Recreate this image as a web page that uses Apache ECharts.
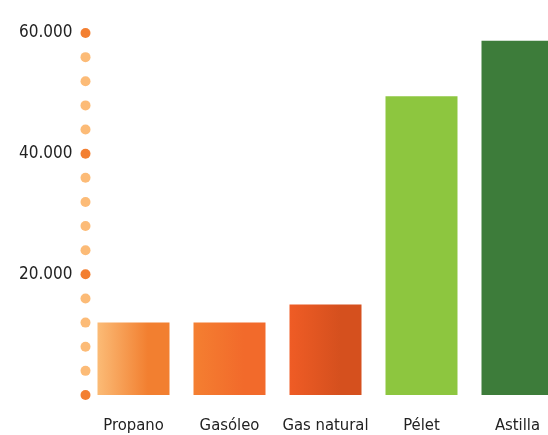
<!DOCTYPE html>
<html>
<head>
<meta charset="utf-8">
<style>
  html, body { margin: 0; padding: 0; background: #ffffff; }
  #chart { width: 548px; height: 435px; }
</style>
<script src="https://cdn.jsdelivr.net/npm/echarts@6/dist/echarts.min.js"></script>
</head>
<body>
<div id="chart"></div>
<script>
// Fuel categories and investment in euros
const categories = ['Propano', 'Gasóleo', 'Gas natural', 'Pélet', 'Astilla'];
const investment = [12000, 12000, 15000, 49500, 58700];
const axisTicks = [0, 20000, 40000, 60000];
// dotted axis marks every 4.000 €
const dotValues = [0, 4000, 8000, 12000, 16000, 20000, 24000, 28000, 32000, 36000, 40000, 44000, 48000, 52000, 56000, 60000];

// bar fills: [left colour, right colour]
const barFills = [
  ['#fbbb76', '#f27f30'],
  ['#f47f31', '#f26a2b'],
  ['#ef5c25', '#d5501e'],
  ['#8dc63f', '#8dc63f'],
  ['#3d7c3a', '#3d7c3a']
];

const fontFamily = '"DejaVu Sans Condensed", "Liberation Sans Narrow", sans-serif';

function fmt(v) {
  return String(v).replace(/\B(?=(\d{3})+(?!\d))/g, '.');
}

const chart = echarts.init(document.getElementById('chart'), null, { renderer: 'canvas' });

chart.setOption({
  animation: false,
  backgroundColor: '#ffffff',
  graphic: [{
    type: 'text',
    left: 56,
    top: -11,
    style: { text: 'Inversión en euros', fill: '#a0a0a0', font: '13px ' + fontFamily }
  }],
  grid: { left: 85.5, right: -17.5, top: 33, bottom: 40, containLabel: false, outerBoundsMode: 'none' },
  xAxis: [{
    type: 'category',
    data: categories,
    axisLine: { show: false },
    axisTick: { show: false },
    axisLabel: { color: '#222222', fontFamily: fontFamily, fontSize: 16.5, margin: 22, interval: 0 }
  }, {
    type: 'value',
    min: 0,
    max: 1,
    show: false
  }],
  yAxis: {
    type: 'value',
    min: 0,
    max: 60000,
    interval: 20000,
    axisLine: { show: false },
    axisTick: { show: false },
    splitLine: { show: false },
    axisLabel: {
      color: '#222222',
      fontFamily: fontFamily,
      fontSize: 17,
      margin: 13,
      formatter: function (v) { return axisTicks.indexOf(v) > 0 ? fmt(v) : ''; }
    }
  },
  series: [{
    type: 'bar',
    xAxisIndex: 0,
    barWidth: 72,
    data: investment.map(function (v, i) {
      return {
        value: v,
        itemStyle: {
          color: new echarts.graphic.LinearGradient(0, 0, 1, 0, [
            { offset: 0, color: barFills[i][0] },
            { offset: 0.7, color: barFills[i][1] },
            { offset: 1, color: barFills[i][1] }
          ])
        }
      };
    })
  }, {
    type: 'scatter',
    xAxisIndex: 1,
    symbolSize: 10,
    z: 5,
    data: dotValues.map(function (v) {
      return {
        value: [0, v],
        itemStyle: { opacity: 1, color: axisTicks.indexOf(v) >= 0 ? '#f37f31' : '#fcbb77' }
      };
    })
  }]
});
</script>
</body>
</html>
